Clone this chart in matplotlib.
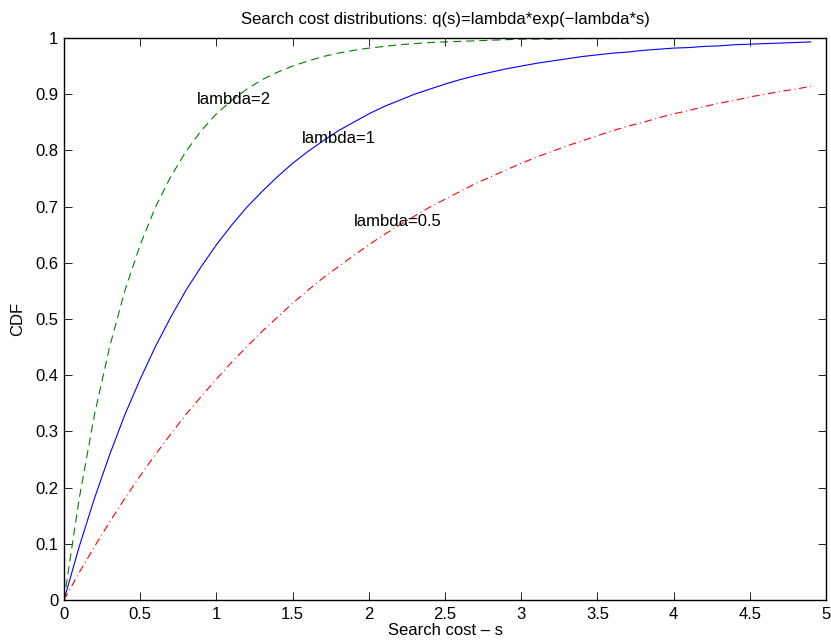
import matplotlib
matplotlib.use("Agg")
import matplotlib.pyplot as plt

plt.rcParams['font.family'] = ['Liberation Sans', 'DejaVu Sans']
plt.rcParams['lines.scale_dashes'] = False

s = [0.0, 0.1, 0.2, 0.3, 0.4, 0.5, 0.6, 0.7, 0.8, 0.9,
     1.0, 1.1, 1.2, 1.3, 1.4, 1.5, 1.6, 1.7, 1.8, 1.9,
     2.0, 2.1, 2.2, 2.3, 2.4, 2.5, 2.6, 2.7, 2.8, 2.9,
     3.0, 3.1, 3.2, 3.3, 3.4, 3.5, 3.6, 3.7, 3.8, 3.9,
     4.0, 4.1, 4.2, 4.3, 4.4, 4.5, 4.6, 4.7, 4.8, 4.9]

cdf_lambda1 = [0.000, 0.095, 0.181, 0.259, 0.330, 0.393, 0.451, 0.503, 0.551, 0.593,
               0.632, 0.667, 0.699, 0.727, 0.753, 0.777, 0.798, 0.817, 0.835, 0.850,
               0.865, 0.878, 0.889, 0.900, 0.909, 0.918, 0.926, 0.933, 0.939, 0.945,
               0.950, 0.955, 0.959, 0.963, 0.967, 0.970, 0.973, 0.975, 0.978, 0.980,
               0.982, 0.983, 0.985, 0.986, 0.988, 0.989, 0.990, 0.991, 0.992, 0.993]

cdf_lambda2 = [0.000, 0.181, 0.330, 0.451, 0.551, 0.632, 0.699, 0.753, 0.798, 0.835,
               0.865, 0.889, 0.909, 0.926, 0.939, 0.950, 0.959, 0.967, 0.973, 0.978,
               0.982, 0.985, 0.988, 0.990, 0.992, 0.993, 0.994, 0.995, 0.996, 0.997,
               0.998, 0.998, 0.998, 0.999, 0.999, 0.999, 0.999, 0.999, 1.000, 1.000,
               1.000, 1.000, 1.000, 1.000, 1.000, 1.000, 1.000, 1.000, 1.000, 1.000]

cdf_lambda05 = [0.000, 0.049, 0.095, 0.139, 0.181, 0.221, 0.259, 0.295, 0.330, 0.362,
                0.393, 0.423, 0.451, 0.478, 0.503, 0.528, 0.551, 0.573, 0.593, 0.613,
                0.632, 0.650, 0.667, 0.683, 0.699, 0.713, 0.727, 0.741, 0.753, 0.765,
                0.777, 0.788, 0.798, 0.808, 0.817, 0.826, 0.835, 0.843, 0.850, 0.858,
                0.865, 0.871, 0.878, 0.884, 0.889, 0.895, 0.900, 0.905, 0.909, 0.914]

labels = ["lambda=2", "lambda=1", "lambda=0.5"]
label_pos = [(0.87, 0.89), (1.56, 0.822), (1.90, 0.673)]

xticks = [0, 0.5, 1, 1.5, 2, 2.5, 3, 3.5, 4, 4.5, 5]
xticklabels = ["0", "0.5", "1", "1.5", "2", "2.5", "3", "3.5", "4", "4.5", "5"]
yticks = [0, 0.1, 0.2, 0.3, 0.4, 0.5, 0.6, 0.7, 0.8, 0.9, 1]
yticklabels = ["0", "0.1", "0.2", "0.3", "0.4", "0.5", "0.6", "0.7", "0.8", "0.9", "1"]

FS = 12

fig = plt.figure(figsize=(8.31, 6.41), dpi=100)
ax = fig.add_axes([64/831, 1-600/641, (826-64)/831, (600-38)/641])

ax.plot(s, cdf_lambda1, color=(0, 0, 1), lw=0.8, linestyle='-')
ax.plot(s, cdf_lambda2, color=(0, 0.5, 0), lw=0.8, linestyle=(0, (5.8, 3.6)))
ax.plot(s, cdf_lambda05, color=(1, 0, 0), lw=0.8, linestyle=(0, (5.5, 2.6, 0.7, 2.6)))

for t, (x, y) in zip(labels, label_pos):
    ax.text(x, y, t, fontsize=FS, ha='left', va='center')

ax.set_xlim(0, 5)
ax.set_ylim(0, 1)
ax.set_xticks(xticks)
ax.set_xticklabels(xticklabels)
ax.set_yticks(yticks)
ax.set_yticklabels(yticklabels)
ax.tick_params(direction='in', length=5.5, width=0.6, top=True, right=True,
               labelsize=FS)
ax.tick_params(axis='x', pad=5)
ax.tick_params(axis='y', pad=4)
for sp in ax.spines.values():
    sp.set_linewidth(1.0)

ax.set_title("Search cost distributions: q(s)=lambda*exp(\u2212lambda*s)", fontsize=FS, pad=10)
ax.set_xlabel("Search cost \u2013 s", fontsize=FS, labelpad=1)
ax.set_ylabel("CDF", fontsize=FS, labelpad=7)

fig.savefig("out.png", dpi=100)
